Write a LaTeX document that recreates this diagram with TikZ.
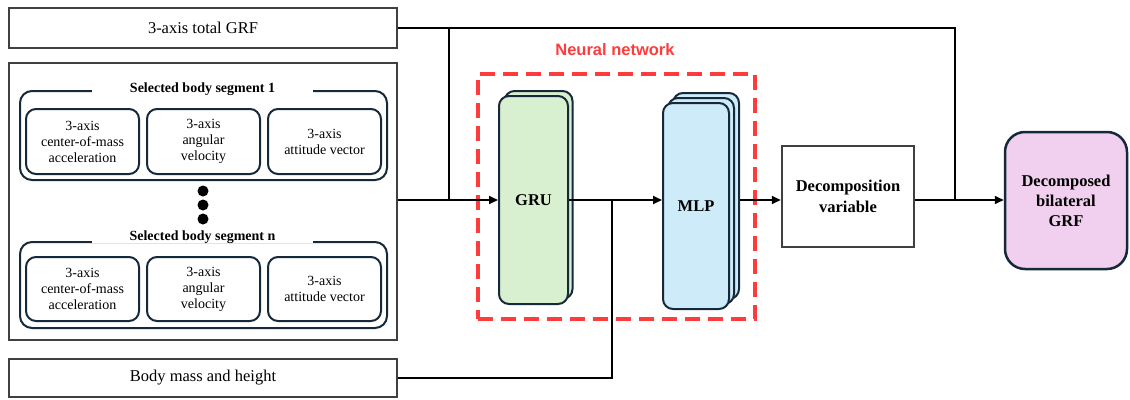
\documentclass[tikz,border=0pt]{standalone}
\usepackage{fontspec}
\setmainfont{Liberation Serif}
\newfontfamily\nnfont{Liberation Sans}
\usetikzlibrary{arrows.meta}
\definecolor{boxgray}{HTML}{404040}
\definecolor{navy}{HTML}{16293A}
\definecolor{grufill}{HTML}{D9F0D0}
\definecolor{mlpfill}{HTML}{CDEBF8}
\definecolor{outfill}{HTML}{F0D0EE}
\definecolor{nnred}{HTML}{FF3B3B}
\begin{document}
\begin{tikzpicture}[x=1pt,y=-1pt,
  plainbox/.style={draw=boxgray, line width=2.5pt, fill=white, inner sep=0pt,
    font=\fontsize{16.5}{20}\selectfont},
  groupbox/.style={draw=navy, line width=2pt, rounded corners=12pt, inner sep=0pt,
    minimum width=367pt, fill=white},
  featbox/.style={draw=navy, line width=2pt, rounded corners=10pt, inner sep=0pt,
    minimum width=113pt, align=center, font=\fontsize{14}{16}\selectfont},
  grouptitle/.style={fill=white, inner sep=0pt, minimum width=221pt, minimum height=12pt,
    font=\fontsize{14}{16}\selectfont\bfseries},
  layer/.style={draw=navy, line width=2pt, rounded corners=10pt, inner sep=0pt,
    font=\fontsize{16.5}{20}\selectfont\bfseries},
  conn/.style={line width=1.8pt, draw=black},
  arr/.style={conn, -{Triangle[length=9pt,width=8pt]}},
  dot/.style={circle, fill=black, inner sep=0pt, minimum size=11pt}
]
\useasboundingbox (0,0) rectangle (1130,399);

% left inputs
\node[plainbox, minimum width=388pt, minimum height=40pt] (tot) at (203,28) {3-axis total GRF};
\node[plainbox, minimum width=388pt, minimum height=277pt] (big) at (203,201.5) {};
\node[plainbox, minimum width=388pt, minimum height=38pt] (body) at (203,378) {Body mass and height};

% segment 1
\node[groupbox, minimum height=89pt] (g1) at (203.5,135.5) {};
\node[grouptitle] (t1) at (202.5,89) {Selected body segment 1};
\node[featbox, minimum height=65pt] (a1) at (82.5,141.5) {3-axis\\center-of-mass\\acceleration};
\node[featbox, minimum height=65pt] (b1) at (203.5,141.5) {3-axis\\angular\\velocity};
\node[featbox, minimum height=65pt] (c1) at (324.5,141.5) {3-axis\\attitude vector};

% dots
\node[dot] (d1) at (203,191) {};
\node[dot] (d2) at (203,205) {};
\node[dot] (d3) at (203,219) {};

% segment n
\node[groupbox, minimum height=86pt] (gn) at (203.5,285) {};
\node[grouptitle] (tn) at (202.5,237) {Selected body segment n};
\node[featbox, minimum height=64pt] (an) at (82.5,289) {3-axis\\center-of-mass\\acceleration};
\node[featbox, minimum height=64pt] (bn) at (203.5,289) {3-axis\\angular\\velocity};
\node[featbox, minimum height=64pt] (cn) at (324.5,289) {3-axis\\attitude vector};

% neural network frame
\node[draw=nnred, line width=3.5pt, dash pattern=on 15pt off 8pt, inner sep=0pt,
      minimum width=277pt, minimum height=245pt] (nn) at (616.5,196.5) {};
\node[text=nnred, font=\nnfont\fontsize{16.5}{20}\selectfont\bfseries] (nnlabel) at (615,50) {Neural network};

% GRU
\node[layer, fill=grufill, minimum width=68pt, minimum height=208pt] (grub) at (538.5,195) {};
\node[layer, fill=grufill, minimum width=69pt, minimum height=208pt] (gru) at (533.5,200) {GRU};

% MLP
\node[layer, fill=mlpfill, minimum width=66pt, minimum height=206pt] (mlpc) at (706,196) {};
\node[layer, fill=mlpfill, minimum width=66pt, minimum height=206pt] (mlpb) at (701,201) {};
\node[layer, fill=mlpfill, minimum width=66pt, minimum height=206pt] (mlp) at (696,206) {MLP};

% decomposition & output
\node[plainbox, minimum width=132pt, minimum height=101pt, align=center,
      font=\fontsize{16.5}{21}\selectfont\bfseries] (dec) at (848,196.5) {Decomposition\\variable};
\node[draw=navy, line width=2.5pt, fill=outfill, rounded corners=20pt, inner sep=0pt,
      minimum width=122pt, minimum height=137pt, align=center,
      font=\fontsize{16.5}{20}\selectfont\bfseries] (out) at (1066,200.5) {Decomposed\\bilateral\\GRF};

% junction coordinates
\coordinate (j1) at (449,200);
\coordinate (jt) at (449,28);
\coordinate (j2) at (955,200);
\coordinate (j3) at (612,200);

% connectors
\draw[conn] (tot.east) -- (tot.east -| j2) -- (j2);
\draw[conn] (jt) -- (j1);
\draw[arr] (big.east |- j1) -- (gru.west |- j1);
\draw[arr] (gru.east |- j3) -- (mlp.west |- j3);
\draw[conn] (body.east) -| (j3);
\draw[arr] (mlpc.east |- j3) -- (dec.west |- j3);
\draw[arr] (dec.east |- j2) -- (out.west |- j2);
\end{tikzpicture}
\end{document}
